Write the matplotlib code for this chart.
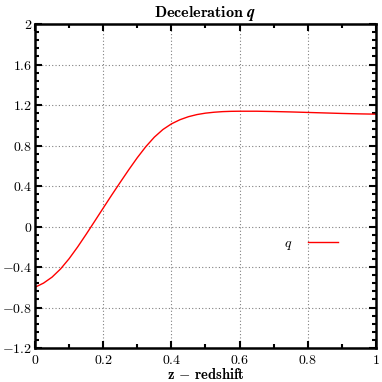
import numpy as np
import matplotlib
matplotlib.use('Agg')
from matplotlib import pyplot as plt
from matplotlib.ticker import MultipleLocator, FixedLocator, FixedFormatter

matplotlib.rcParams['mathtext.fontset'] = 'cm'
matplotlib.rcParams['font.family'] = 'serif'
matplotlib.rcParams['font.serif'] = ['cmr10', 'DejaVu Serif']
matplotlib.rcParams['axes.unicode_minus'] = False

# deceleration parameter
z = [0.0, 0.025, 0.05, 0.075, 0.1, 0.125, 0.15, 0.175, 0.2, 0.225, 0.25,
     0.275, 0.3, 0.325, 0.35, 0.375, 0.4, 0.425, 0.45, 0.475, 0.5, 0.525,
     0.55, 0.575, 0.6, 0.65, 0.7, 0.75, 0.8, 0.85, 0.9, 0.95, 1.0]
q = [-0.600, -0.559, -0.500, -0.419, -0.318, -0.202, -0.077, 0.052, 0.182, 0.311, 0.437,
     0.561, 0.680, 0.789, 0.883, 0.958, 1.014, 1.055, 1.085, 1.106, 1.120, 1.129,
     1.135, 1.138, 1.139, 1.139, 1.136, 1.132, 1.127, 1.122, 1.117, 1.113, 1.110]

yticks = [-1.2, -0.8, -0.4, 0, 0.4, 0.8, 1.2, 1.6, 2]
ylabels = ['$-1.2$', '$-0.8$', '$-0.4$', '$0$', '$0.4$', '$0.8$', '$1.2$', '$1.6$', '$2$']
xticks = [0, 0.2, 0.4, 0.6, 0.8, 1]
xlabels = ['$0$', '$0.2$', '$0.4$', '$0.6$', '$0.8$', '$1$']

fig = plt.figure(figsize=(3.82, 3.82), dpi=100)
ax = fig.add_axes([0.0916, 0.089, 0.8927, 0.848])

ax.plot(z, q, color='red', lw=1.0, label='$q$')

ax.set_xlim(0, 1)
ax.set_ylim(-1.2, 2)
ax.xaxis.set_major_locator(FixedLocator(xticks))
ax.xaxis.set_major_formatter(FixedFormatter(xlabels))
ax.yaxis.set_major_locator(FixedLocator(yticks))
ax.yaxis.set_major_formatter(FixedFormatter(ylabels))
ax.xaxis.set_minor_locator(MultipleLocator(0.1))
ax.yaxis.set_minor_locator(MultipleLocator(0.08))
ax.tick_params(which='both', direction='in', top=True, right=True, labelsize=10, colors='black')
ax.tick_params(which='major', length=5, width=1.5)
ax.tick_params(which='minor', length=3, width=1.5)
ax.tick_params(axis='y', which='major', pad=2)
ax.tick_params(axis='x', which='major', pad=4)
for s in ax.spines.values():
    s.set_linewidth(1.8)

ax.grid(True, which='major', linestyle=(0, (1, 2)), color='gray', lw=0.8)

ax.set_title(r'$\mathbf{Deceleration}\ \boldsymbol{q}$', fontsize=11.5, pad=5)
ax.set_xlabel(r'$\mathbf{z\,-\,redshift}$', fontsize=10.5, labelpad=0)

ax.legend(loc='center', bbox_to_anchor=(0.81, 0.318), frameon=False, markerfirst=False,
          handlelength=2.2, fontsize=10, handletextpad=1.1)

plt.savefig('out.png', dpi=100)
